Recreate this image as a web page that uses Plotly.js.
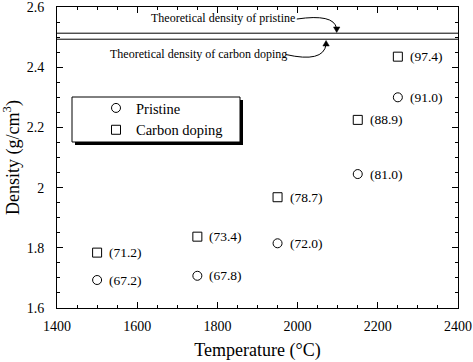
<!DOCTYPE html>
<html>
<head>
<meta charset="utf-8">
<script src="https://cdn.plot.ly/plotly-3.0.1.min.js"></script>
<style>html,body{margin:0;padding:0;background:#fff;}#chart{width:473px;height:362px;}</style>
</head>
<body>
<div id="chart"></div>
<script>
// ---- data ----
var temperatures = [1500, 1750, 1950, 2150, 2250];
var pristineDensity = [1.693, 1.707, 1.815, 2.045, 2.300];
var carbonDensity = [1.784, 1.837, 1.968, 2.225, 2.435];
var pristineRelative = [67.2, 67.8, 72.0, 81.0, 91.0];
var carbonRelative = [71.2, 73.4, 78.7, 88.9, 97.4];
var theoreticalNames = ['Theoretical density of pristine', 'Theoretical density of carbon doping'];
var theoreticalDensity = [2.513, 2.493];
var xTickVals = [1400, 1600, 1800, 2000, 2200, 2400];
var yTickVals = [1.6, 1.8, 2.0, 2.2, 2.4, 2.6];

var FONT = '"Liberation Serif"';

var traces = [
  {
    x: temperatures, y: pristineDensity, name: 'Pristine', type: 'scatter', mode: 'markers',
    marker: {symbol: 'circle-open', size: 9, color: '#000', line: {width: 1, color: '#000'}}
  },
  {
    x: temperatures, y: carbonDensity, name: 'Carbon doping', type: 'scatter', mode: 'markers',
    marker: {symbol: 'square-open', size: 9, color: '#000', line: {width: 1, color: '#000'}}
  }
];

var annotations = [];
function addLabels(ys, rel) {
  for (var i = 0; i < temperatures.length; i++) {
    annotations.push({
      x: temperatures[i], y: ys[i], xref: 'x', yref: 'y',
      text: '(' + rel[i].toFixed(1) + ')', showarrow: false,
      xanchor: 'left', yanchor: 'middle', xshift: 10,
      font: {family: FONT, size: 13.5, color: '#000'}
    });
  }
}
addLabels(pristineDensity, pristineRelative);
addLabels(carbonDensity, carbonRelative);

// theoretical density texts
annotations.push({
  x: 1814, y: 2.562, xref: 'x', yref: 'y', text: theoreticalNames[0], showarrow: false,
  xanchor: 'center', yanchor: 'middle', font: {family: FONT, size: 12, color: '#000'}
});
annotations.push({
  x: 1752, y: 2.443, xref: 'x', yref: 'y', text: theoreticalNames[1], showarrow: false,
  xanchor: 'center', yanchor: 'middle', font: {family: FONT, size: 12, color: '#000'}
});

var shapes = [];
theoreticalDensity.forEach(function (d) {
  shapes.push({type: 'line', xref: 'paper', x0: 0, x1: 1, yref: 'y', y0: d, y1: d,
    line: {color: '#000', width: 1}});
});
// curved arrow stems
shapes.push({type: 'path', xref: 'x', yref: 'y',
  path: 'M 1998,2.560 Q 2090,2.578 2097,2.530', line: {color: '#000', width: 1}});
shapes.push({type: 'path', xref: 'x', yref: 'y',
  path: 'M 1971,2.442 Q 2064,2.414 2071,2.475', line: {color: '#000', width: 1}});
// arrowheads
shapes.push({type: 'path', xref: 'x', yref: 'y',
  path: 'M 2089.5,2.5336 L 2105.5,2.5336 L 2097.5,2.5153 Z', fillcolor: '#000', line: {color: '#000', width: 0.5}});
shapes.push({type: 'path', xref: 'x', yref: 'y',
  path: 'M 2063,2.4704 L 2079,2.4704 L 2071,2.4887 Z', fillcolor: '#000', line: {color: '#000', width: 0.5}});
// legend box with shadow
shapes.push({type: 'rect', xref: 'paper', yref: 'paper',
  x0: (75 - 57) / 401, x1: (243 - 57) / 401, y0: 1 - (145 - 7) / 301, y1: 1 - (100 - 7) / 301,
  fillcolor: '#000', line: {width: 0}, layer: 'above'});
shapes.push({type: 'rect', xref: 'paper', yref: 'paper',
  x0: (72 - 57) / 401, x1: (240 - 57) / 401, y0: 1 - (142 - 7) / 301, y1: 1 - (97 - 7) / 301,
  fillcolor: '#fff', line: {width: 1, color: '#000'}, layer: 'above'});

function axisBase() {
  return {
    showgrid: false, zeroline: false, showline: true, linecolor: '#000', linewidth: 1,
    mirror: 'allticks', ticks: 'inside', ticklen: 6, tickwidth: 1, tickcolor: '#000',
    ticklabeloverflow: 'allow',
    tickfont: {family: FONT, size: 14, color: '#000'}
  };
}
var xaxis = axisBase();
xaxis.range = [1400, 2400];
xaxis.tickvals = xTickVals;
xaxis.ticktext = xTickVals.map(String);
xaxis.ticklabelstandoff = 5;
xaxis.minor = {dtick: 50, tick0: 1400, ticks: 'inside', ticklen: 3, tickwidth: 1, tickcolor: '#000', showgrid: false};
xaxis.title = {text: 'Temperature (°C)', font: {family: FONT, size: 18, color: '#000'}, standoff: 10};

var yaxis = axisBase();
yaxis.range = [1.6, 2.6];
yaxis.tickvals = yTickVals;
yaxis.ticktext = yTickVals.map(function (v) { return String(+v.toFixed(1)); });
yaxis.ticklabelstandoff = 9;
yaxis.minor = {dtick: 0.05, tick0: 1.6, ticks: 'inside', ticklen: 3, tickwidth: 1, tickcolor: '#000', showgrid: false};
yaxis.title = {text: 'Density (g/cm<sup>3</sup>)', font: {family: FONT, size: 18, color: '#000'}, standoff: 9};

var layout = {
  width: 473, height: 362,
  margin: {l: 57, r: 15, t: 7, b: 54, pad: 0},
  paper_bgcolor: '#fff', plot_bgcolor: '#fff',
  font: {family: FONT, color: '#000'},
  showlegend: true,
  legend: {
    x: (96 - 57) / 401, y: 1 - (119 - 7) / 301, xanchor: 'left', yanchor: 'middle',
    bgcolor: 'rgba(0,0,0,0)', borderwidth: 0,
    font: {family: FONT, size: 14.5, color: '#000'}
  },
  xaxis: xaxis, yaxis: yaxis,
  shapes: shapes, annotations: annotations
};

Plotly.newPlot('chart', traces, layout, {displayModeBar: false, staticPlot: true});
</script>
</body>
</html>
